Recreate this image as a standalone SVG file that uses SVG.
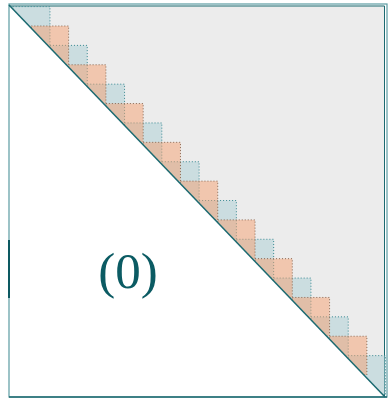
<svg xmlns="http://www.w3.org/2000/svg" width="388" height="399" viewBox="0 0 388 399">
  <style>
    .blk { stroke-width: 1; stroke-dasharray: 1 2; }
    .blue { fill: rgba(169,205,212,0.5); stroke: #3a8a92; }
    .orange { fill: rgba(246,160,112,0.5); stroke: #8a6a55; }
    .edge { stroke: #1b6a71; fill: none; }
    .label { font-family: "Liberation Serif", "Times New Roman", serif; font-size: 51px; fill: #0b5b63; }
  </style>
  <defs>
    <clipPath id="upper">
      <polygon points="9,5 9,0 388,0 388,397 385,397"/>
    </clipPath>
  </defs>
  <rect x="0" y="0" width="388" height="399" fill="#ffffff"/>
  <g id="frame">
    <rect x="9" y="4" width="378" height="393" fill="none" stroke="#5c9ca2" stroke-width="1.2"/>
    <line x1="9" y1="397" x2="387" y2="397" stroke="#1f6a71" stroke-width="1.5"/>
    <line x1="9" y1="240" x2="9" y2="298" stroke="#0d5961" stroke-width="2"/>
  </g>
  <g id="upper-triangle">
    <polygon points="9,5.5 384.5,5.5 384.5,396" fill="#ececec"/>
    <polyline class="edge" points="9,6 384.5,6 384.5,397" stroke-width="1"/>
  </g>
  <g id="blocks" clip-path="url(#upper)">
    <rect id="b0" class="blk blue" x="12.70" y="6.60" width="37.28" height="38.78"/>
    <rect id="b2" class="blk blue" x="49.98" y="45.38" width="37.28" height="38.78"/>
    <rect id="b4" class="blk blue" x="87.26" y="84.16" width="37.28" height="38.78"/>
    <rect id="b6" class="blk blue" x="124.54" y="122.94" width="37.28" height="38.78"/>
    <rect id="b8" class="blk blue" x="161.82" y="161.72" width="37.28" height="38.78"/>
    <rect id="b10" class="blk blue" x="199.10" y="200.50" width="37.28" height="38.78"/>
    <rect id="b12" class="blk blue" x="236.38" y="239.28" width="37.28" height="38.78"/>
    <rect id="b14" class="blk blue" x="273.66" y="278.06" width="37.28" height="38.78"/>
    <rect id="b16" class="blk blue" x="310.94" y="316.84" width="37.28" height="38.78"/>
    <rect id="b18" class="blk blue" x="348.22" y="355.62" width="37.28" height="38.78"/>
    <rect id="b1" class="blk orange" x="31.34" y="25.99" width="37.28" height="38.78"/>
    <rect id="b3" class="blk orange" x="68.62" y="64.77" width="37.28" height="38.78"/>
    <rect id="b5" class="blk orange" x="105.90" y="103.55" width="37.28" height="38.78"/>
    <rect id="b7" class="blk orange" x="143.18" y="142.33" width="37.28" height="38.78"/>
    <rect id="b9" class="blk orange" x="180.46" y="181.11" width="37.28" height="38.78"/>
    <rect id="b11" class="blk orange" x="217.74" y="219.89" width="37.28" height="38.78"/>
    <rect id="b13" class="blk orange" x="255.02" y="258.67" width="37.28" height="38.78"/>
    <rect id="b15" class="blk orange" x="292.30" y="297.45" width="37.28" height="38.78"/>
    <rect id="b17" class="blk orange" x="329.58" y="336.23" width="37.28" height="38.78"/>
  </g>
  <g id="diagonal">
    <line class="edge" x1="9" y1="5" x2="385" y2="397" stroke-width="1.5"/>
  </g>
  <g id="label">
    <text class="label" x="128" y="288" text-anchor="middle">(0)</text>
  </g>
</svg>
